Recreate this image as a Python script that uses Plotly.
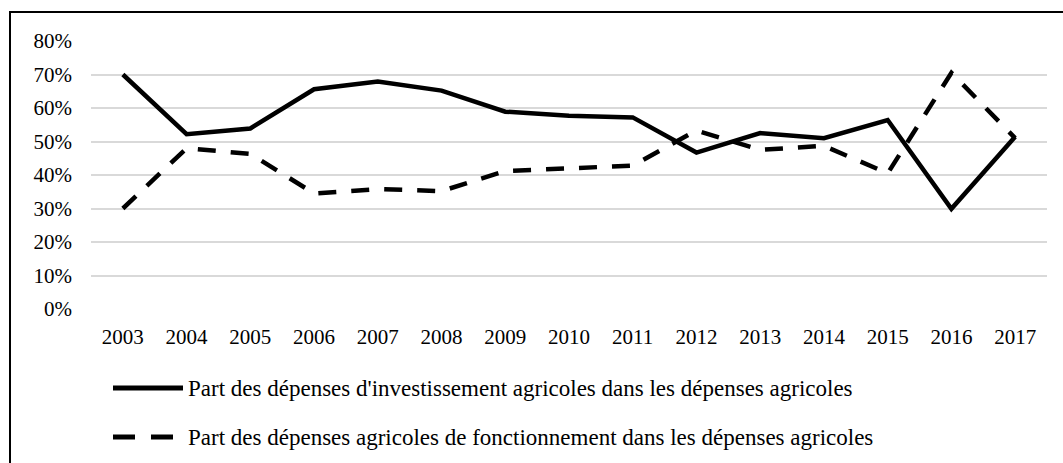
import plotly.graph_objects as go

years = ["2003", "2004", "2005", "2006", "2007", "2008", "2009", "2010",
         "2011", "2012", "2013", "2014", "2015", "2016", "2017"]
invest = [0.700, 0.522, 0.539, 0.656, 0.679, 0.652, 0.589, 0.577,
          0.572, 0.467, 0.525, 0.510, 0.564, 0.299, 0.514]
fonct = [0.300, 0.480, 0.463, 0.345, 0.358, 0.352, 0.412, 0.420,
         0.428, 0.533, 0.475, 0.487, 0.405, 0.705, 0.510]
name_invest = "Part des dépenses d'investissement agricoles dans les dépenses agricoles"
name_fonct = "Part des dépenses agricoles de fonctionnement dans les dépenses agricoles"
y_ticks = [0, 0.1, 0.2, 0.3, 0.4, 0.5, 0.6, 0.7, 0.8]

FONT = "Liberation Serif"
DASH = "18px,15px"

fig = go.Figure()
fig.add_trace(go.Scatter(x=years, y=invest, mode="lines", name=name_invest,
                         line=dict(color="black", width=4.5), showlegend=False))
fig.add_trace(go.Scatter(x=years, y=fonct, mode="lines", name=name_fonct,
                         line=dict(color="black", width=4.5, dash=DASH), showlegend=False))

W, H = 1063, 463
L, R, T, B = 91, 16, 41, 154
pw, ph = W - L - R, H - T - B

def px(xp):
    return (xp - L) / pw

def py(yp):
    return (H - B - yp) / ph

shapes = [
    # outer frame (right and bottom fall outside the picture)
    dict(type="rect", xref="paper", yref="paper", x0=px(10), x1=px(1075),
         y0=py(480), y1=py(12), line=dict(color="black", width=2), layer="below"),
]
annotations = []
for i, (nm, dash) in enumerate([(name_invest, "solid"), (name_fonct, "22px,16px")]):
    yy = py(388 + i * 49)
    shapes.append(dict(type="line", xref="paper", yref="paper",
                       x0=px(113), x1=px(183 if i == 0 else 173), y0=yy, y1=yy,
                       line=dict(color="black", width=5, dash=dash)))
    annotations.append(dict(xref="paper", yref="paper", x=px(186), y=yy,
                            xanchor="left", yanchor="middle", text=nm,
                            showarrow=False, font=dict(family=FONT, size=23, color="black")))

fig.update_layout(
    width=W, height=H,
    margin=dict(l=L, r=R, t=T, b=B),
    paper_bgcolor="white", plot_bgcolor="white",
    font=dict(family=FONT, size=21, color="black"),
    shapes=shapes, annotations=annotations,
    showlegend=False,
    xaxis=dict(type="category", range=[-0.5, 14.5], showgrid=False, zeroline=False,
               showline=False, ticks="", ticklabelstandoff=13,
               tickfont=dict(family=FONT, size=21, color="black")),
    yaxis=dict(range=[0, 0.8], tickvals=y_ticks, tickformat=".0%",
               showgrid=True, gridcolor="#d9d9d9", gridwidth=1.5,
               zeroline=False, showline=False, ticks="", ticklabelstandoff=18,
               tickfont=dict(family=FONT, size=21, color="black")),
)
fig.write_html("out.html", config={"displayModeBar": False},
               post_script="document.body.style.margin='0';")
